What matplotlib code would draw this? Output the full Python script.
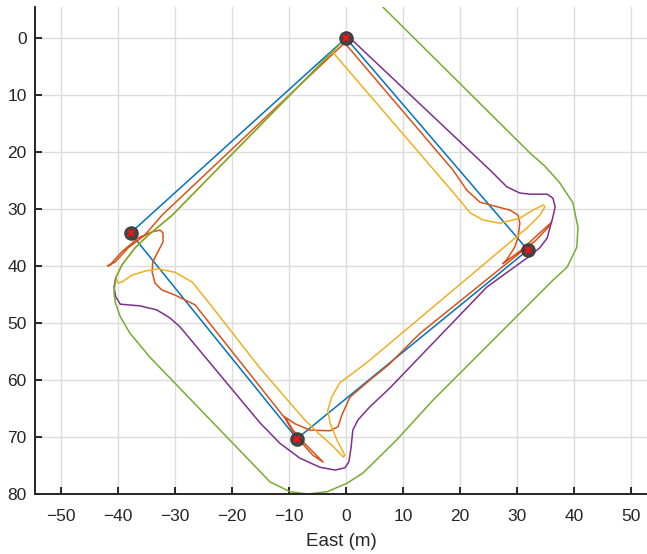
import matplotlib
matplotlib.use("Agg")
import matplotlib.pyplot as plt
import numpy as np

plt.rcParams['font.family'] = ['Liberation Sans', 'DejaVu Sans']

# waypoints (East, North) in metres
wp_east = [0.0, 31.9, -8.6, -37.8]
wp_north = [0.0, 37.2, 70.3, 34.2]

# planned path through the waypoints (blue)
plan_e = [0.0, 31.9, -8.6, -37.8, 0.0]
plan_n = [0.0, 37.2, 70.3, 34.2, 0.0]

# orange track
orange_e = [-0.2, 18.8, 21.2, 23.5, 26.5, 28.8, 30.2, 30.5, 30.2, 29.6, 28.2, 27.5,
            30.5, 34.0, 36.1, 35.4, 33.2, 30.5, 13.0, 7.4, 4.2, 0.7, -0.7, -1.4,
            -2.8, -6.3, -8.9, -10.7, -9.3, -7.2, -5.4, -4.0, -5.8, -7.7, -9.5, -10.7,
            -26.5, -30.0, -32.3, -33.5, -34.0, -33.9, -33.0, -32.1, -32.1, -32.6,
            -34.0, -36.5, -39.3, -41.4, -41.8, -40.5, -38.2, -35.3, -32.3, -0.5]
orange_n = [0.9, 23.2, 26.7, 28.8, 29.6, 30.2, 31.1, 32.5, 34.9, 36.7, 38.9, 39.6,
            37.4, 34.2, 32.3, 33.3, 35.6, 37.7, 51.8, 57.4, 60.0, 63.0, 66.1, 68.2,
            68.9, 68.8, 67.7, 66.5, 68.8, 71.2, 73.0, 74.4, 73.2, 71.1, 68.8, 66.7,
            46.8, 45.1, 44.2, 43.0, 41.1, 39.3, 37.5, 35.8, 34.2, 33.7,
            34.0, 35.1, 37.5, 39.8, 40.0, 39.3, 36.8, 34.6, 31.1, 1.1]

# yellow track
yellow_e = [-2.4, 16.5, 19.5, 21.8, 24.0, 27.0, 30.5, 32.8, 34.6, 34.9, 34.0, 31.8,
            4.2, 1.2, -1.1, -2.5, -3.2, -2.8, -1.6, -0.2, -0.5, -2.3, -5.1, -7.5,
            -15.1, -24.4, -27.0, -30.0, -33.0, -35.3, -37.5, -39.3, -40.0, -40.4,
            -39.3, -37.0, -34.7, -30.5, -2.4]
yellow_n = [2.4, 24.4, 27.9, 30.7, 31.9, 32.5, 31.6, 30.2, 29.3, 29.6, 31.1, 33.3,
            56.5, 58.8, 60.5, 63.0, 65.3, 67.5, 70.5, 73.2, 73.5, 71.6, 69.1, 66.7,
            57.9, 46.0, 42.8, 41.1, 40.5, 40.9, 41.6, 42.8, 43.0, 42.1,
            39.8, 36.8, 34.6, 31.1, 2.4]

# purple track
purple_e = [0.7, 25.3, 28.2, 30.5, 32.3, 35.3, 36.3, 36.7, 36.3, 35.8, 35.3, 34.0,
            32.3, 24.7, 7.7, 4.2, 2.1, 1.2, 0.9, 0.5, -0.2, -1.9, -4.6, -8.1,
            -11.6, -15.1, -29.1, -30.9, -33.2, -36.1, -38.4, -39.6, -40.4, -40.7, -40.4]
purple_n = [0.0, 23.2, 26.1, 27.2, 27.4, 27.4, 28.1, 29.6, 31.4, 33.2, 35.1, 36.8,
            38.2, 43.7, 61.4, 64.7, 67.0, 68.8, 71.8, 74.4, 75.4, 75.8, 75.3, 73.7,
            71.1, 67.5, 50.7, 49.1, 47.7, 47.0, 46.8, 46.7, 45.4, 43.7, 42.1]

# green track
green_e = [5.9, 32.3, 34.9, 37.5, 39.8, 40.7, 40.5, 38.8, 36.3, 22.3, 15.3, 8.9,
           3.0, 0.2, -3.3, -6.8, -9.8, -13.3, -34.4, -37.9, -39.6, -40.5, -40.7,
           -40.4, -39.3, -37.0, -34.7, -30.5, -0.9]
green_n = [-6.0, 20.2, 22.5, 25.4, 28.9, 33.2, 36.7, 40.2, 42.5, 56.5, 63.5, 70.5,
           76.3, 78.1, 79.6, 80.0, 79.6, 77.9, 56.0, 51.8, 48.9, 46.3, 44.6,
           42.1, 39.8, 36.8, 34.6, 31.1, 0.9]

x_ticks = np.arange(-50, 51, 10)
y_ticks = np.arange(0, 81, 10)

fig = plt.figure(figsize=(6.47, 5.54), dpi=100)
ax = fig.add_axes([35 / 647, 60 / 554, 612 / 647, 487 / 554])

ax.plot(plan_e, plan_n, color='#0072BD', lw=1.1)
ax.plot(orange_e, orange_n, color='#D95319', lw=1.1)
ax.plot(yellow_e, yellow_n, color='#EDB120', lw=1.1)
ax.plot(purple_e, purple_n, color='#7E2F8E', lw=1.1)
ax.plot(green_e, green_n, color='#77AC30', lw=1.1)

ax.plot(wp_east, wp_north, 'o', color='#3c3c3c', ms=9.5, alpha=0.95, zorder=5)
ax.plot(wp_east, wp_north, 'x', color='#ff1010', ms=4.5, mew=1.6, zorder=6)

ax.set_xlim(-54.56, 52.81)
ax.set_ylim(80, -5.44)
ax.set_xticks(x_ticks)
ax.set_yticks(y_ticks)
ax.grid(True, color='#dcdcdc', lw=1.0)
ax.set_axisbelow(True)

for s in ['top', 'right']:
    ax.spines[s].set_visible(False)
for s in ['left', 'bottom']:
    ax.spines[s].set_color('#262626')
    ax.spines[s].set_linewidth(1.4)

ax.tick_params(axis='both', direction='in', length=5, width=1.4, color='#262626',
               labelcolor='#262626', labelsize=12.5)
ax.tick_params(axis='x', pad=11)
ax.tick_params(axis='y', pad=6)

ax.set_xlabel('East (m)', fontsize=13.5, color='#262626', labelpad=6)

fig.savefig('out.png', dpi=100)
